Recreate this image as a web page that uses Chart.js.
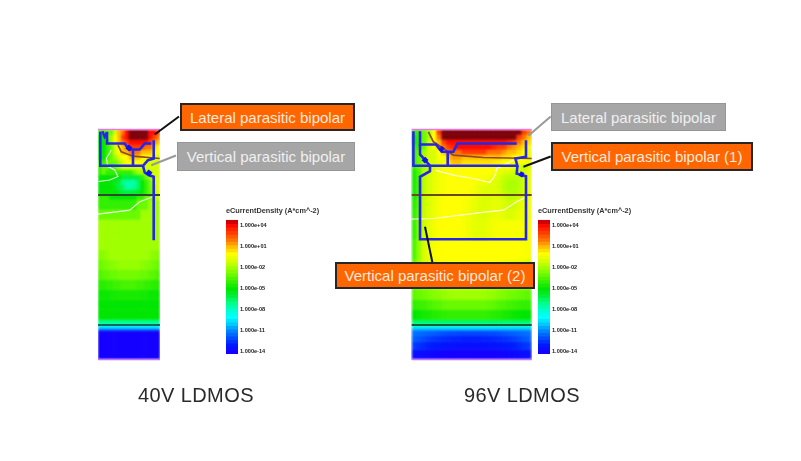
<!DOCTYPE html>
<html>
<head>
<meta charset="utf-8">
<title>LDMOS parasitic bipolar</title>
<script src="https://cdn.jsdelivr.net/npm/chart.js@4/dist/chart.umd.min.js"></script>
<style>
  html, body { margin: 0; background: #fff; }
  #page { position: relative; width: 801px; height: 461px; overflow: hidden; filter: blur(0.6px); font-family: "Liberation Sans", Arial, sans-serif; }
  #page canvas { position: absolute; left: 0; top: 0; }
  /* only the maps are soft, the filter runs before the clip so the edge stays put */
  #heat40 { filter: blur(0.9px); clip-path: inset(129.5px 641px 101.5px 98px); }
  #heat96 { filter: blur(0.9px); clip-path: inset(129.5px 269.3px 101.5px 411.7px); }
  .callout { position: absolute; box-sizing: border-box; display: flex; align-items: center; justify-content: center; font-size: 15px; white-space: nowrap; }
  .hot { background: #ff6600; border: 2px solid #262626; color: #ffeadd; }
  .cold { background: #a6a6a6; border: 1px solid #969696; color: #f0f0f0; }
  .caption { position: absolute; top: 384px; font-size: 20px; letter-spacing: 0.4px; color: #2a2a2a; white-space: nowrap; }
</style>
</head>
<body>
<div id="page">
  <canvas id="heat40" width="801" height="461"></canvas>
  <canvas id="heat96" width="801" height="461"></canvas>
  <canvas id="lines40" width="801" height="461"></canvas>
  <canvas id="lines96" width="801" height="461"></canvas>
  <canvas id="scale40" width="110" height="160" style="left:226px;top:203px"></canvas>
  <canvas id="scale96" width="110" height="160" style="left:538px;top:203px"></canvas>
  <div class="caption" style="left:138px">40V LDMOS</div>
  <div class="caption" style="left:464px">96V LDMOS</div>
  <div class="callout hot" style="left:180px;top:103px;width:175px;height:28px">Lateral parasitic bipolar</div>
  <div class="callout cold" style="left:177px;top:142px;width:178px;height:29px">Vertical parasitic bipolar</div>
  <div class="callout cold" style="left:551px;top:103px;width:175px;height:28px">Lateral parasitic bipolar</div>
  <div class="callout hot" style="left:551px;top:142px;width:202px;height:29px">Vertical parasitic bipolar (1)</div>
  <div class="callout hot" style="left:335px;top:262px;width:200px;height:27px">Vertical parasitic bipolar (2)</div>
</div>
<script>
// colour scale (log10 of current density -> colour)
const stopValues = [5, 4.2, 3, 2, 1, 0, -1, -2, -3, -4, -5, -6, -7, -8, -9, -10, -11, -12, -13, -14];
const stopColors = [
  [125, 0, 10], [255, 0, 0], [255, 60, 0], [255, 115, 0], [255, 190, 0], [255, 255, 0], [215, 255, 0], [160, 255, 0],
  [105, 250, 0], [50, 240, 0], [0, 230, 0], [0, 240, 60], [0, 255, 135], [0, 255, 205], [0, 255, 255],
  [0, 200, 255], [0, 130, 255], [0, 75, 255], [0, 25, 255], [20, 0, 255]
];

// colourbar
const legendTicks = [4, 1, -2, -5, -8, -11, -14];
const legendLevels = [4.5, 4, 3.5, 3, 2.5, 2, 1.5, 1, 0.5, 0, -0.5, -1, -1.5, -2, -2.5, -3, -3.5, -4, -4.5, -5, -5.5, -6,
  -6.5, -7, -7.5, -8, -8.5, -9, -9.5, -10, -10.5, -11, -11.5, -12, -12.5, -13, -13.5, -14, -14.5];

// 40V device, log10 current density, one row per rowEdges40 band
const colWidth40 = 3.875;
const rowEdges40 = [0, 5, 10, 15, 20, 25, 30, 35, 40, 45, 50, 55, 60, 65, 70, 80, 90, 110, 120, 130, 140, 150, 160, 170, 180, 190, 194, 196, 199, 201, 230];
const heat40 = [
  [-4, -4, -3, -3, -1, 1, 2, 4, 5, 5, 5, 5, 5, 4, 4, 3],
  [-5, -5, -3, -2, 0, 1, 3, 4, 5, 5, 5, 5, 5, 4, 3, 2],
  [-5, -5, -4, -2, 0, 1, 2, 3, 4, 4, 4, 4, 4, 3, 2, 1],
  [-5, -5, -4, -3, -1, 0, 1, 2, 3, 3, 3, 3, 2, 2, 1, 0],
  [-5, -5, -4, -3, -1, 0, 1, 1, 2, 2, 2, 1, 1, 1, 0, 0],
  [-5, -5, -4, -3, -2, -1, 0, 0, 1, 1, 1, 0, 0, 0, -1, -1],
  [-4, -4, -3, -3, -3, -2, -1, 0, 0, 0, 0, 0, -1, -1, -1, -1],
  [-4, -3, -3, -4, -3, -2, -1, -1, -1, -1, -1, -1, -1, -1, -1, -1],
  [-4, -3, -4, -4, -4, -4, -4, -4, -4, -3, -2, -2, -2, -2, -1, -1],
  [-5, -5, -5, -5, -5, -5, -6, -6, -6, -6, -6, -4, -3, -2, -1, -1],
  [-5, -5, -5, -5, -5.5, -6, -7, -7.5, -7.5, -7.5, -6.5, -5, -4, -3, -1, -1],
  [-5, -5, -5, -5, -5.5, -6, -6.5, -7.5, -7.5, -7, -6.5, -5, -4, -3, -2, -1],
  [-5, -5, -5, -5, -5, -5.5, -6, -6, -6, -6, -5.5, -5, -4, -3, -2, -1],
  [-4, -4, -4, -5, -5, -5, -5, -5, -5, -5, -4, -4, -3, -3, -2, -1],
  [-4, -4, -4, -4, -4, -4, -4, -4, -4, -4, -3, -3, -3, -2, -2, -2],
  [-3, -3, -3, -3, -3, -3, -3, -3, -3, -3, -3, -2, -2, -2, -2, -2],
  [-2, -2, -2, -2, -2, -2, -2, -2, -2, -2, -2, -2, -2, -2, -2, -2],
  [-2, -2, -2, -2, -2, -2, -2, -2, -2, -2, -2, -2, -2, -2, -2, -2],
  [-2.5, -2.4, -2.2, -2, -2, -2, -2, -2, -2, -2, -2, -2, -2, -2.2, -2.4, -2.5],
  [-3, -2.8, -2.6, -2.5, -2.4, -2.2, -2.2, -2.2, -2.2, -2.2, -2.2, -2.4, -2.5, -2.6, -2.8, -3],
  [-3.5, -3.3, -3.2, -3, -3, -2.8, -2.8, -2.8, -2.8, -2.8, -2.8, -3, -3, -3.2, -3.3, -3.5],
  [-4.2, -4.2, -4, -4, -3.8, -3.8, -3.6, -3.6, -3.6, -3.6, -3.8, -3.8, -4, -4, -4.2, -4.2],
  [-4.8, -4.8, -4.8, -4.6, -4.6, -4.5, -4.5, -4.5, -4.5, -4.5, -4.5, -4.6, -4.6, -4.8, -4.8, -4.8],
  [-5, -5, -5, -5, -5, -5, -5, -5, -5, -5, -5, -5, -5, -5, -5, -5],
  [-5, -5, -5, -5, -5, -5, -5, -5, -5, -5, -5, -5, -5, -5, -5, -5],
  [-7, -7, -7, -7, -7, -7, -7, -7, -7, -7, -7, -7, -7, -7, -7, -7],
  [-8, -8, -8, -8, -8, -8, -8, -8, -8, -8, -8, -8, -8, -8, -8, -8],
  [-9.5, -9.5, -9.5, -9.5, -9.5, -9.5, -9.5, -9.5, -9.5, -9.5, -9.5, -9.5, -9.5, -9.5, -9.5, -9.5],
  [-11.5, -11.5, -11.5, -11.5, -11.5, -11.5, -11.5, -11.5, -11.5, -11.5, -11.5, -11.5, -11.5, -11.5, -11.5, -11.5],
  [-14, -14, -14, -14, -14, -14, -14, -14, -14, -14, -14, -14, -14, -14, -14, -14]
];

// 96V device
const colWidth96 = 5;
const rowEdges96 = [0, 5, 10, 15, 20, 25, 30, 35, 40, 45, 50, 55, 60, 65, 70, 80, 90, 110, 130, 140, 150, 160, 170, 180, 190, 194, 197, 199, 201, 206, 212, 220, 230];
const heat96 = [
  [-4, -4, -3, -2, 0, 3, 5, 5, 5, 5, 5, 5, 5, 5, 5, 5, 5, 5, 5, 5, 5, 5, 3, 2],
  [-5, -4, -3, -2, 0, 2, 5, 5, 5, 5, 5, 5, 5, 5, 5, 5, 5, 5, 5, 5, 5, 3, 2, 1],
  [-5, -4, -3, -1, 0, 1, 3, 4, 4, 4, 4, 4, 4, 4, 4, 4, 4, 4, 4, 3.5, 3, 2, 1, 0.5],
  [-4, -4, -3, -1, 0, 1, 2, 3, 3.5, 4, 4, 4, 4, 4, 4, 4, 3.5, 3, 3, 2, 1.5, 1, 0.5, 0],
  [-4, -3, -2, -1, -1, 0, 1, 2, 2, 2, 3, 3, 3, 3, 3, 2, 2, 2, 1.5, 1, 1, 0.5, 0, -0.5],
  [-4, -3, -2, -1, -1, 0, 0, 1, 1.5, 1.5, 1, 1, 1, 1, 1, 1, 1, 1, 0.5, 0.5, 0, 0, 0, -0.5],
  [-4, -3, -2, -1, -1, -0.5, 0, 0.5, 1, 1, 0.5, 0.5, 0.5, 0.5, 0.5, 0.5, 0.3, 0.2, 0, 0, 0, 0, 0, -0.5],
  [-4, -3, -2, -1.5, -1, -0.5, 0, 0, 0, 0, 0, 0, 0, 0, 0, 0, 0, 0, 0, 0, -0.5, -1, -1.5, -1],
  [-4.5, -3.5, -1.5, -1, -0.6, -0.3, -0.2, 0, 0, 0, 0, 0, 0, 0, 0, 0, -0.2, -0.5, -0.8, -1, -1.2, -1.2, -0.8, -0.5],
  [-4.5, -3.5, -1.5, -1, -0.6, -0.3, -0.2, 0, 0, 0, 0, 0, 0, 0, -0.2, -0.3, -0.5, -0.9, -1.3, -1.5, -1.5, -1.5, -1, -0.5],
  [-4.5, -3.5, -1.5, -1, -0.6, -0.3, -0.2, 0, 0, 0, 0, 0, 0, -0.3, -0.5, -0.6, -0.8, -1, -1.5, -1.8, -1.8, -1.6, -1, -0.5],
  [-4.5, -3.5, -1.5, -1, -0.6, -0.3, -0.2, 0, 0, 0, 0, 0, -0.2, -0.5, -0.7, -0.8, -0.8, -1, -1.5, -1.8, -1.8, -1.6, -1, -0.5],
  [-4.5, -3.5, -1.5, -1, -0.6, -0.3, -0.2, 0, 0, 0, 0, -0.1, -0.3, -0.6, -0.8, -0.8, -0.8, -1, -1.4, -1.7, -1.7, -1.5, -0.9, -0.5],
  [-4.5, -3.5, -1.4, -1, -0.6, -0.3, -0.2, 0, 0, 0, -0.1, -0.2, -0.4, -0.7, -0.9, -0.9, -0.8, -0.9, -1.2, -1.5, -1.5, -1.2, -0.8, -0.4],
  [-4.2, -3.2, -1.3, -0.9, -0.5, -0.2, 0, 0, 0, 0, -0.1, -0.3, -0.5, -0.8, -0.9, -0.8, -0.6, -0.7, -0.9, -1.2, -1.1, -0.8, -0.5, -0.3],
  [-4, -3, -1.2, -0.8, -0.5, -0.2, 0, 0, 0, 0, -0.2, -0.4, -0.6, -0.8, -0.9, -0.7, -0.5, -0.5, -0.7, -0.9, -0.8, -0.5, -0.4, -0.3],
  [-4, -2.5, -1.2, -0.6, -0.3, 0, 0, 0, 0, 0, -0.2, -0.4, -0.6, -0.7, -0.7, -0.5, -0.3, -0.2, -0.2, -0.2, -0.2, -0.2, -0.2, -0.2],
  [-3.5, -2.2, -1, -0.5, -0.2, 0, 0, 0, 0, 0, 0, 0, 0, 0, 0, 0, 0, 0, 0, 0, 0, 0, -0.1, -0.2],
  [-3, -2, -1, -0.6, -0.4, -0.2, -0.1, -0.1, -0.1, -0.1, -0.1, -0.1, -0.1, -0.1, -0.1, -0.1, -0.1, -0.1, -0.2, -0.3, -0.4, -0.5, -0.7, -1],
  [-2.5, -2.2, -1.8, -1.5, -1.2, -1, -0.9, -0.8, -0.8, -0.8, -0.8, -0.8, -0.8, -0.8, -0.8, -0.8, -0.9, -1, -1.1, -1.2, -1.3, -1.4, -1.5, -1.7],
  [-2.8, -2.6, -2.4, -2.2, -2, -1.8, -1.6, -1.5, -1.5, -1.5, -1.5, -1.5, -1.5, -1.5, -1.5, -1.6, -1.7, -1.8, -1.9, -2, -2.1, -2.2, -2.3, -2.4],
  [-3.2, -3, -2.9, -2.7, -2.5, -2.4, -2.2, -2.1, -2, -2, -2, -2, -2, -2, -2.1, -2.2, -2.3, -2.5, -2.6, -2.8, -2.9, -3, -3.1, -3.2],
  [-4, -3.9, -3.8, -3.6, -3.4, -3.3, -3.1, -3, -3, -3, -3, -3, -3, -3, -3, -3.1, -3.2, -3.4, -3.5, -3.7, -3.8, -3.9, -4, -4],
  [-5, -4.8, -4.6, -4.5, -4.3, -4.2, -4.1, -4, -4, -4, -4, -4, -4, -4, -4, -4.1, -4.2, -4.3, -4.5, -4.6, -4.8, -4.9, -5, -5],
  [-6.5, -6.5, -6.5, -6.5, -6.5, -6.5, -6.5, -6.5, -6.5, -6.5, -6.5, -6.5, -6.5, -6.5, -6.5, -6.5, -6.5, -6.5, -6.5, -6.5, -6.5, -6.5, -6.5, -6.5],
  [-8, -8, -8, -8, -8, -8, -8, -8, -8, -8, -8, -8, -8, -8, -8, -8, -8, -8, -8, -8, -8, -8, -8, -8],
  [-9.5, -9.5, -9.5, -9.5, -9.5, -9.5, -9.5, -9.5, -9.5, -9.5, -9.5, -9.5, -9.5, -9.5, -9.5, -9.5, -9.5, -9.5, -9.5, -9.5, -9.5, -9.5, -9.5, -9.5],
  [-10.5, -10.5, -10.5, -10.5, -10.5, -10.5, -10.5, -10.5, -10.5, -10.5, -10.5, -10.5, -10.5, -10.5, -10.5, -10.5, -10.5, -10.5, -10.5, -10.5, -10.5, -10.5, -10.5, -10.5],
  [-11.3, -11.4, -11.5, -11.6, -11.7, -11.8, -11.9, -12, -12, -12.1, -12.1, -12.1, -12.1, -12.1, -12.1, -12, -12, -11.9, -11.8, -11.7, -11.6, -11.5, -11.4, -11.3],
  [-11.6, -11.8, -12, -12.2, -12.4, -12.5, -12.6, -12.7, -12.8, -12.8, -12.9, -12.9, -12.9, -12.9, -12.8, -12.8, -12.7, -12.6, -12.5, -12.4, -12.2, -12, -11.8, -11.6],
  [-12.3, -12.5, -12.7, -12.9, -13, -13.1, -13.2, -13.3, -13.3, -13.4, -13.4, -13.4, -13.4, -13.4, -13.4, -13.3, -13.3, -13.2, -13.1, -13, -12.9, -12.7, -12.5, -12.3],
  [-13.4, -13.5, -13.6, -13.7, -13.8, -13.9, -14, -14, -14, -14, -14, -14, -14, -14, -14, -14, -14, -14, -13.9, -13.8, -13.7, -13.6, -13.5, -13.4]
];

// device structure: x, y in device units
const blue40 = [
  [[2.3, 2.3], [2.3, 36.3], [45, 36.3], [50, 30.7], [55.7, 29], [55.7, 10.7]],
  [[45, 36.3], [46.7, 43], [51, 45.7], [55.7, 47.3], [55.7, 110.7]],
  [[9, 2.3], [9, 14], [26.7, 14], [31, 20], [41.7, 20], [46.7, 14], [53.3, 14]],
  [[35, 20.7], [35, 36.3]],
  [[4.3, 1.7], [6.7, 7.3], [9, 3]]
];
const blobs40 = [[[29, 17], [33, 20]], [[49, 42], [53, 45]]];
const brown40 = [[20, 15.7], [23.3, 22.3], [35, 26.7], [61.7, 29]];
const white40 = [
  [[13.4, 20.5], [8.4, 28.8], [10, 37], [16.7, 40.5], [20, 47], [11.7, 50.5], [0.7, 52]],
  [[0, 84.7], [18, 82.3], [31.7, 80.7], [41.7, 72.3], [55, 67.3]]
];
const leaders40 = [
  { color: '#111111', points: [[56.7, 5], [81, -13]] },
  { color: '#999999', points: [[53.3, 35.7], [78, 26]] }
];

const blue96 = [
  [[1.7, 1.7], [1.7, 36.3], [105.7, 36.3], [103.7, 29], [114.3, 27.3], [114.3, 10.7]],
  [[105.7, 36.3], [105, 44], [114.3, 46.7], [114.3, 109.7], [8.3, 109.7], [8.3, 47.3], [18.3, 41.7], [18.3, 36.3]],
  [[8.3, 1.7], [8.3, 15], [24.3, 15], [30, 22.3], [41.7, 22.3], [45.7, 14], [105, 14]],
  [[8.3, 15], [8.3, 25], [13, 30], [18.3, 36.3]],
  [[36, 22.3], [36, 36.3]]
];
const blobs96 = [[[28.3, 18.3], [31.7, 20.7]], [[108, 44], [111.7, 45.7]], [[11.7, 29], [15, 32.3]]];
const brown96 = [[16.7, 2.3], [21.7, 12.3], [41.7, 25.7], [71.7, 28], [120, 29]];
const white96 = [
  [[23.3, 40.7], [41.7, 45.7], [61.7, 49], [78.3, 53], [83.3, 45.7], [85, 39], [101.7, 30.7]],
  [[0, 89.7], [21.7, 89], [48.3, 85.7], [75, 82.3], [91.7, 80.7], [105, 72.3], [115, 67.3]]
];
const leaders96 = [
  { color: '#999999', points: [[116.7, 6.3], [139, -13]] },
  { color: '#111111', points: [[111.7, 37.3], [139, 27]] },
  { color: '#111111', points: [[13.3, 97.3], [20.7, 133]] }
];

function colorFor(v) {
  for (let i = 0; i < stopValues.length - 1; i++) {
    if (v >= stopValues[i + 1]) {
      const t = (stopValues[i] - v) / (stopValues[i] - stopValues[i + 1]);
      const c = stopColors[i].map((a, k) => Math.round(a + (stopColors[i + 1][k] - a) * Math.max(t, 0)));
      return `rgb(${c[0]},${c[1]},${c[2]})`;
    }
  }
  return 'rgb(20,0,255)';
}

function lineDataset(points, color, width) {
  return {
    data: points.map(p => ({ x: p[0], y: p[1] })),
    borderColor: color,
    borderWidth: width,
    pointRadius: 0,
    tension: 0,
    fill: false,
    clip: false
  };
}

function deviceOptions(opts) {
  return {
    responsive: false,
    animation: false,
    layout: { padding: opts.padding },
    plugins: { legend: { display: false }, tooltip: { enabled: false } },
    scales: {
      x: { type: 'linear', display: false, offset: false, min: 0, max: opts.width, ticks: { stepSize: 50 } },
      y: { type: 'linear', display: false, min: 0, max: 230, reverse: true, ticks: { stepSize: 50 } }
    }
  };
}

// the current density map, one bar dataset per row
function drawHeat(id, opts) {
  const datasets = opts.heat.map((row, r) => ({
    data: row.map((v, c) => ({ x: (c + 0.5) * opts.colWidth, y: [opts.rowEdges[r], opts.rowEdges[r + 1]] })),
    backgroundColor: row.map(colorFor),
    borderWidth: 0,
    grouped: false,
    barPercentage: 1,
    categoryPercentage: 1
  }));
  new Chart(document.getElementById(id), { type: 'bar', data: { datasets }, options: deviceOptions(opts) });
}

// junctions, contours and leader lines on top of the map
function drawLines(id, opts) {
  const w = opts.width;
  const datasets = [];
  opts.leaders.forEach(l => datasets.push(lineDataset(l.points, l.color, 2)));
  opts.blobs.forEach(l => datasets.push(lineDataset(l, '#1010f0', 5)));
  opts.blue.forEach(l => datasets.push(lineDataset(l, '#2626e6', 2.6)));
  datasets.push(lineDataset([[0, 195.5], [w, 195.5]], opts.lowLine, 1.8));
  datasets.push(lineDataset([[0, 65.5], [w, 65.5]], opts.midLine, 2));
  datasets.push(lineDataset(opts.brown, '#8c4a1e', 1.7));
  opts.white.forEach(l => datasets.push(lineDataset(l, 'rgba(255,255,255,0.85)', 1.2)));
  datasets.push(lineDataset([[0, 230], [w, 230]], '#c070ff', 1.5));
  datasets.push(lineDataset([[0, 0], [w, 0]], '#e878e0', 1.5));
  new Chart(document.getElementById(id), { type: 'line', data: { datasets }, options: deviceOptions(opts) });
}

function tickText(v) {
  const e = Math.abs(v).toString().padStart(2, '0');
  return '1.000e' + (v < 0 ? '-' : '+') + e;
}

function drawColorbar(id) {
  new Chart(document.getElementById(id), {
    type: 'bar',
    data: {
      labels: [''],
      datasets: legendLevels.map(v => ({
        data: [[v - 0.27, v + 0.27]],
        backgroundColor: colorFor(v),
        borderWidth: 0,
        grouped: false,
        barPercentage: 1,
        categoryPercentage: 1
      }))
    },
    options: {
      responsive: false,
      animation: false,
      layout: { padding: { bottom: 9 } },
      plugins: {
        legend: { display: false },
        tooltip: { enabled: false },
        title: {
          display: true,
          text: 'eCurrentDensity (A*cm^-2)',
          align: 'start',
          color: '#333333',
          padding: { top: 4, bottom: 4 },
          font: { family: '"Liberation Sans"', size: 7.3, weight: 'bold' }
        }
      },
      scales: {
        x: { display: false },
        y: {
          position: 'right',
          min: -14.3,
          max: 4.8,
          grid: { display: false, drawTicks: false },
          border: { display: false },
          afterBuildTicks: s => { s.ticks = legendTicks.map(v => ({ value: v })); },
          afterFit: s => { s.width = 98; },
          ticks: {
            callback: v => tickText(v),
            color: '#222222',
            padding: 2,
            autoSkip: false,
            font: { family: '"Liberation Sans"', size: 5.6, weight: 'bold' }
          }
        }
      }
    }
  });
}

const device40 = {
  heat: heat40, rowEdges: rowEdges40, colWidth: colWidth40, width: 62,
  blue: blue40, blobs: blobs40, brown: brown40, white: white40, leaders: leaders40,
  midLine: '#2f4a2a', lowLine: '#0e6a60',
  padding: { left: 98, top: 129.5, right: 641, bottom: 101.5 }
};
const device96 = {
  heat: heat96, rowEdges: rowEdges96, colWidth: colWidth96, width: 120,
  blue: blue96, blobs: blobs96, brown: brown96, white: white96, leaders: leaders96,
  midLine: '#6b4a10', lowLine: '#0e6030',
  padding: { left: 411.7, top: 129.5, right: 269.3, bottom: 101.5 }
};
drawHeat('heat40', device40);
drawHeat('heat96', device96);
drawLines('lines40', device40);
drawLines('lines96', device96);
drawColorbar('scale40');
drawColorbar('scale96');
</script>
</body>
</html>
